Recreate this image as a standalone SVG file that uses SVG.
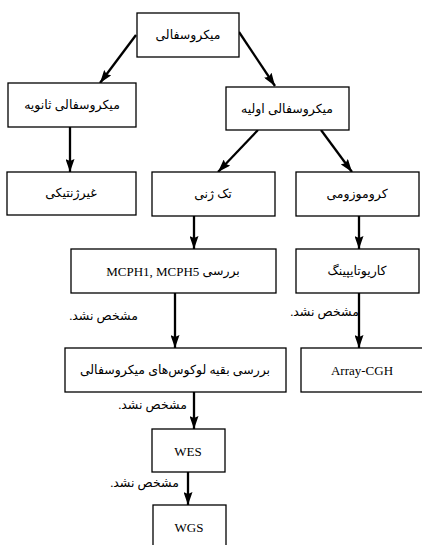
<svg xmlns="http://www.w3.org/2000/svg" width="422" height="545" viewBox="0 0 422 545">
<style>
.box{fill:#fff;stroke:#000;stroke-width:1.3}
.t{font-family:"Liberation Serif","DejaVu Sans",serif;font-size:12.5px;fill:#000;text-anchor:middle;dominant-baseline:central}
.lat{font-size:13px}
.lbl{font-family:"Liberation Serif","DejaVu Sans",serif;font-size:12.5px;fill:#000;text-anchor:middle;dominant-baseline:central}
.c{stroke:#000;stroke-width:2.3;fill:none;marker-end:url(#ah)}
</style>
<defs>
<marker id="ah" markerUnits="userSpaceOnUse" markerWidth="13" markerHeight="9" viewBox="0 0 13 9" refX="13" refY="4.5" orient="auto">
<path d="M0,0 L13,4.5 L0,9 L2,4.5 z" fill="#000"/>
</marker>
</defs>
<rect width="422" height="545" fill="#fff"/>
<g id="connectors">
<line class="c" x1="136" y1="35" x2="100" y2="83"/>
<line class="c" x1="239" y1="32" x2="275" y2="86"/>
<line class="c" x1="70" y1="127" x2="70" y2="172"/>
<line class="c" x1="258" y1="130" x2="218" y2="172"/>
<line class="c" x1="321" y1="130" x2="352" y2="172"/>
<line class="c" x1="194" y1="216" x2="194" y2="249"/>
<line class="c" x1="359" y1="216" x2="359" y2="249"/>
<line class="c" x1="175" y1="293" x2="175" y2="348"/>
<line class="c" x1="359" y1="293" x2="359" y2="348"/>
<line class="c" x1="194" y1="392" x2="194" y2="429"/>
<line class="c" x1="188" y1="472" x2="188" y2="505"/>
<text class="lbl" x="103.5" y="316" direction="rtl">مشخص نشد.</text>
<text class="lbl" x="324.5" y="312" direction="rtl">مشخص نشد.</text>
<text class="lbl" x="152.5" y="405" direction="rtl">مشخص نشد.</text>
<text class="lbl" x="144.5" y="483" direction="rtl">مشخص نشد.</text>
</g>
<g id="n1"><rect class="box" x="137" y="13" width="102" height="44"/><text class="t" x="188" y="35" direction="rtl">میکروسفالی</text></g>
<g id="n2"><rect class="box" x="8" y="83" width="128" height="44"/><text class="t" x="72" y="105" direction="rtl">میکروسفالی ثانویه</text></g>
<g id="n3"><rect class="box" x="226" y="87" width="123" height="43"/><text class="t" x="287" y="109" direction="rtl">میکروسفالی اولیه</text></g>
<g id="n4"><rect class="box" x="7" y="172" width="129" height="43"/><text class="t" x="71" y="193" direction="rtl">غیرژنتیکی</text></g>
<g id="n5"><rect class="box" x="152" y="172" width="123" height="44"/><text class="t" x="213" y="194" direction="rtl">تک ژنی</text></g>
<g id="n6"><rect class="box" x="296" y="172" width="123" height="44"/><text class="t" x="357" y="194" direction="rtl">کروموزومی</text></g>
<g id="n7"><rect class="box" x="71" y="249" width="205" height="44"/><text class="t" x="173" y="271" direction="rtl">بررسی <tspan class="lat">MCPH1, MCPH5</tspan></text></g>
<g id="n8"><rect class="box" x="296" y="249" width="123" height="44"/><text class="t" x="357" y="271" direction="rtl">کاریوتایپینگ</text></g>
<g id="n9"><rect class="box" x="65" y="348" width="221" height="44"/><text class="t" x="175" y="370" direction="rtl">بررسی بقیه لوکوس‌های میکروسفالی</text></g>
<g id="n10"><rect class="box" x="301" y="348" width="122" height="44"/><text class="t lat" x="362" y="370">Array-CGH</text></g>
<g id="n11"><rect class="box" x="152" y="429" width="73" height="43"/><text class="t lat" x="188" y="451">WES</text></g>
<g id="n12"><rect class="box" x="153" y="505" width="73" height="45"/><text class="t lat" x="189" y="527">WGS</text></g>
</svg>
